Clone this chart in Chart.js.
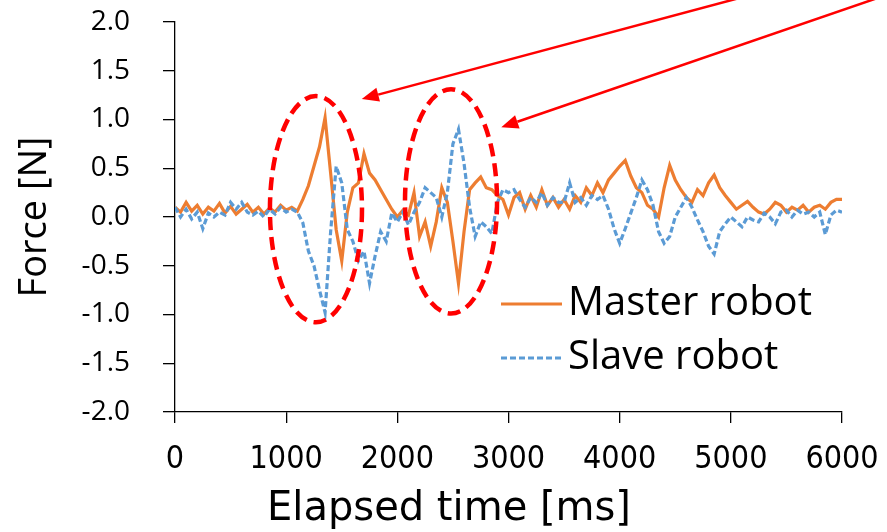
<!DOCTYPE html>
<html lang="en">
<head>
    <meta charset="UTF-8">
    <title>Force vs elapsed time</title>
    <script src="https://cdn.jsdelivr.net/npm/chart.js"></script>
    <style>
        body { margin: 0; background: #fff; }
        canvas { display: block; }
    </style>
</head>
<body>
    <canvas id="forceChart" width="887" height="532"></canvas>

    <script>
        // sampling interval of the recordings (ms)
        const SAMPLE_MS = 50;

        const masterForce = [
            0.10, 0.05, 0.15, 0.06, 0.12, 0.03, 0.10, 0.06, 0.14, 0.04,
            0.11, 0.03, 0.08, 0.13, 0.05, 0.10, 0.03, 0.09, 0.05, 0.12,
            0.07, 0.10, 0.06, 0.18, 0.32, 0.52, 0.72, 1.02, 0.45, -0.13,
            -0.45, 0.05, 0.30, 0.35, 0.65, 0.45, 0.38, 0.28, 0.18, 0.08,
            0.00, 0.07, 0.02, 0.25, -0.20, -0.05, -0.30, -0.05, 0.30, 0.15,
            -0.25, -0.68, -0.15, 0.28, 0.35, 0.41, 0.30, 0.28, 0.22, 0.18,
            0.02, 0.20, 0.25, 0.08, 0.22, 0.10, 0.28, 0.12, 0.20, 0.10,
            0.18, 0.08, 0.22, 0.15, 0.30, 0.22, 0.35, 0.25, 0.38, 0.45,
            0.52, 0.58, 0.42, 0.30, 0.25, 0.12, 0.08, 0.00, 0.30, 0.53,
            0.38, 0.28, 0.20, 0.15, 0.28, 0.22, 0.35, 0.43, 0.30, 0.22,
            0.15, 0.08, 0.12, 0.16, 0.10, 0.05, 0.03, 0.08, 0.15, 0.12,
            0.05, 0.10, 0.07, 0.12, 0.05, 0.10, 0.12, 0.08, 0.15, 0.18,
            0.18
        ];

        const slaveForce = [
            0.10, 0.00, 0.08, -0.02, 0.05, -0.12, 0.04, 0.00, 0.05, 0.02,
            0.15, 0.08, 0.15, 0.05, 0.02, 0.06, 0.00, 0.08, 0.03, 0.10,
            0.05, 0.08, 0.05, -0.06, -0.35, -0.50, -0.75, -0.98, -0.15, 0.52,
            0.35, -0.13, -0.25, -0.45, -0.35, -0.68, -0.40, -0.15, -0.25, 0.04,
            -0.05, 0.05, -0.08, 0.05, 0.15, 0.30, 0.25, 0.20, 0.00, 0.25,
            0.75, 0.90, 0.55, 0.10, -0.20, -0.05, -0.10, -0.17, 0.15, 0.28,
            0.25, 0.28, 0.18, 0.10, 0.20, 0.15, 0.25, 0.12, 0.20, 0.15,
            0.15, 0.35, 0.15, 0.20, 0.12, 0.22, 0.18, 0.22, 0.08, -0.12,
            -0.27, -0.12, 0.04, 0.20, 0.38, 0.28, 0.12, -0.15, -0.27, -0.20,
            0.00, 0.10, 0.20, 0.10, -0.03, -0.15, -0.30, -0.38, -0.15, -0.07,
            0.00, -0.05, -0.10, 0.00, -0.03, -0.05, 0.04, 0.00, -0.07, 0.05,
            0.07, 0.00, 0.07, 0.03, 0.05, 0.00, 0.05, -0.18, 0.02, 0.07,
            0.05
        ];

        const seriesNames = ['Master robot', 'Slave robot'];
        const xTicks = [0, 1000, 2000, 3000, 4000, 5000, 6000];
        const yTicks = [-2.0, -1.5, -1.0, -0.5, 0.0, 0.5, 1.0, 1.5, 2.0];
        const xTitle = 'Elapsed time [ms]';

        // highlighted regions: centre time, centre force, half width (ms), half height (N)
        const highlightEllipses = [
            [1268, 0.08, 414, 1.16],
            [2483, 0.16, 414, 1.15]
        ];
        // arrows: from (time, force) to (time, force)
        const highlightArrows = [
            [5090, 2.25, 1680, 1.21],
            [6330, 2.25, 2935, 0.92]
        ];

        const ORANGE = '#ED7D31';
        const BLUE = '#5B9BD5';
        const RED = '#FF0000';

        const toPoints = arr => arr.map((v, i) => ({ x: i * SAMPLE_MS, y: v }));

        const annotations = {
            id: 'annotations',
            afterDatasetsDraw(chart) {
                const { ctx, scales: { x, y } } = chart;
                ctx.save();
                ctx.strokeStyle = RED;
                ctx.lineWidth = 4.5;
                ctx.setLineDash([13, 7]);
                highlightEllipses.forEach(([cx, cy, rx, ry]) => {
                    const px = x.getPixelForValue(cx);
                    const py = y.getPixelForValue(cy);
                    const prx = x.getPixelForValue(cx + rx) - px;
                    const pry = py - y.getPixelForValue(cy + ry);
                    ctx.beginPath();
                    ctx.ellipse(px, py, prx, pry, 0, 0, Math.PI * 2);
                    ctx.stroke();
                });
                ctx.setLineDash([]);
                ctx.lineWidth = 2.5;
                ctx.fillStyle = RED;
                highlightArrows.forEach(([x0, y0, x1, y1]) => {
                    const ax = x.getPixelForValue(x0), ay = y.getPixelForValue(y0);
                    const bx = x.getPixelForValue(x1), by = y.getPixelForValue(y1);
                    const ang = Math.atan2(by - ay, bx - ax);
                    const head = 17, half = 7;
                    const hx = bx - head * Math.cos(ang), hy = by - head * Math.sin(ang);
                    ctx.beginPath();
                    ctx.moveTo(ax, ay);
                    ctx.lineTo(hx, hy);
                    ctx.stroke();
                    ctx.beginPath();
                    ctx.moveTo(bx, by);
                    ctx.lineTo(hx + half * Math.sin(ang), hy - half * Math.cos(ang));
                    ctx.lineTo(hx - half * Math.sin(ang), hy + half * Math.cos(ang));
                    ctx.closePath();
                    ctx.fill();
                });
                ctx.restore();
            }
        };

        // y tick labels, in-plot legend and x title are drawn here
        const axisText = {
            id: 'axisText',
            afterDraw(chart) {
                const { ctx, scales: { y } } = chart;
                ctx.save();
                ctx.fillStyle = '#000';
                ctx.textBaseline = 'middle';

                ctx.font = '28px "Open Sans", sans-serif';
                ctx.textAlign = 'right';
                yTicks.forEach(v => ctx.fillText(v.toFixed(1), 130, y.getPixelForValue(v)));

                const rows = [
                    { label: seriesNames[0], color: ORANGE, dash: [], y: 304 },
                    { label: seriesNames[1], color: BLUE, dash: [6, 3], y: 358 }
                ];
                ctx.font = '40px "Open Sans", sans-serif';
                ctx.textAlign = 'left';
                rows.forEach(r => {
                    ctx.strokeStyle = r.color;
                    ctx.lineWidth = 3;
                    ctx.setLineDash(r.dash);
                    ctx.beginPath();
                    ctx.moveTo(501, r.y);
                    ctx.lineTo(562, r.y);
                    ctx.stroke();
                    ctx.fillText(r.label, 568, r.y);
                });

                // x axis title, set left of centre as in the original figure
                ctx.font = '40px "DejaVu Sans", sans-serif';
                ctx.textAlign = 'center';
                ctx.fillText(xTitle, 449, 510);
                ctx.restore();
            }
        };

        new Chart(document.getElementById('forceChart'), {
            type: 'line',
            data: {
                datasets: [{
                    label: seriesNames[0],
                    data: toPoints(masterForce),
                    borderColor: ORANGE,
                    borderWidth: 3.2,
                    pointRadius: 0,
                    order: 1
                }, {
                    label: seriesNames[1],
                    data: toPoints(slaveForce),
                    borderColor: BLUE,
                    borderWidth: 3.2,
                    borderDash: [6, 3],
                    pointRadius: 0,
                    order: 0
                }]
            },
            options: {
                responsive: false,
                animation: false,
                layout: { padding: { top: 22, right: 45, left: 0, bottom: 0 } },
                plugins: { legend: { display: false }, tooltip: { enabled: false } },
                scales: {
                    x: {
                        type: 'linear',
                        min: 0,
                        max: 6000,
                        afterBuildTicks: s => { s.ticks = xTicks.map(v => ({ value: v })); },
                        afterFit: s => { s.height = 120; s.paddingLeft = 0; s.paddingRight = 0; },
                        grid: { drawOnChartArea: false, tickLength: 11, color: '#000', lineWidth: 1.3 },
                        border: { color: '#000', width: 1.3 },
                        ticks: {
                            color: '#000',
                            padding: 17,
                            maxRotation: 0,
                            callback: v => String(v),
                            font: { family: '"DejaVu Sans Condensed", "DejaVu Sans"', size: 32 }
                        }
                    },
                    y: {
                        type: 'linear',
                        min: -2,
                        max: 2,
                        afterBuildTicks: s => { s.ticks = yTicks.map(v => ({ value: v })); },
                        afterFit: s => { s.width = 175; s.paddingTop = 0; s.paddingBottom = 0; },
                        grid: { drawOnChartArea: false, tickLength: 12, color: '#000', lineWidth: 1.3 },
                        border: { color: '#000', width: 1.3 },
                        ticks: { display: false },
                        title: {
                            display: true,
                            text: 'Force [N]',
                            color: '#000',
                            font: { family: '"Open Sans"', size: 38 },
                            padding: { top: 12, bottom: 0 }
                        }
                    }
                }
            },
            plugins: [annotations, axisText]
        });
    </script>
</body>
</html>
